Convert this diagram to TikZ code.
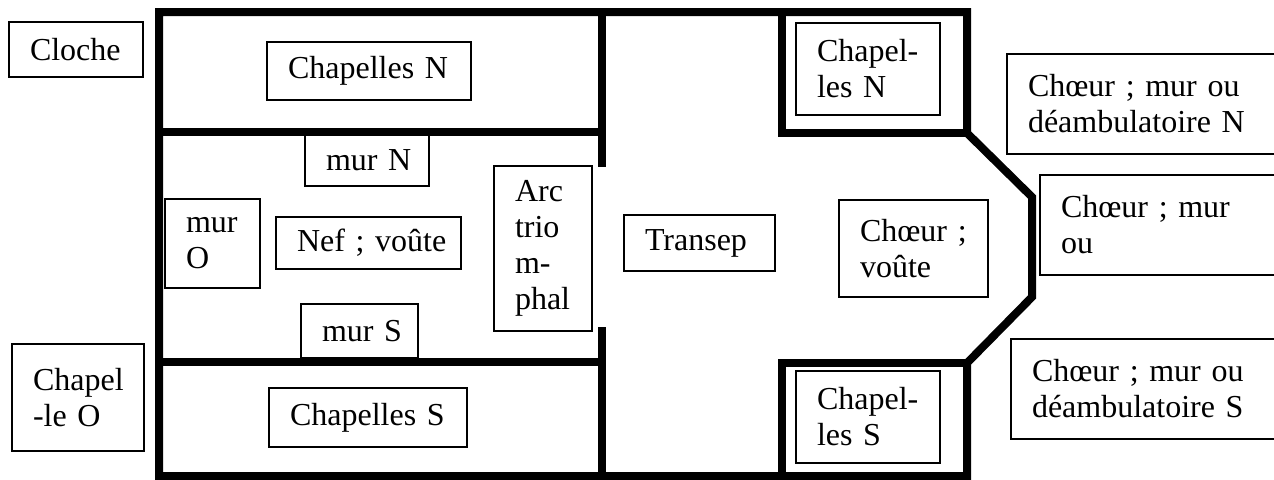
\documentclass[tikz,border=0pt]{standalone}
\usepackage{fontspec}
\setmainfont{Liberation Serif}
\hyphenpenalty=10000
\exhyphenpenalty=10000
\frenchspacing
\begin{document}
\begin{tikzpicture}[x=0.5pt,y=-0.5pt]
\tikzset{
  wall/.style={line width=4pt, line join=miter, line cap=rect},
  wallbutt/.style={line width=4pt, line cap=butt},
  box/.style={draw, fill=white, line width=0.7pt, inner xsep=10.5pt, inner ysep=0pt,
    align=left, anchor=center, font=\fontsize{16}{18}\selectfont}
}
\newcommand\tline[1]{\mbox{#1}}
\useasboundingbox (0,0) rectangle (1274,479);
\fill[white] (0,0) rectangle (1274,479);
\clip (0,0) rectangle (1274,479);
% walls
\draw[wall] (159,484) -- (159,12) -- (967,12) -- (967,133) -- (1032,197) -- (1032,297) -- (967,363) -- (967,484);
\draw[wall] (782,12) -- (782,133) -- (967,133);
\draw[wall] (967,363) -- (782,363) -- (782,484);
\draw[wall] (159,476) -- (967,476);
\draw[wall] (159,132) -- (602,132);
\draw[wall] (159,362) -- (602,362);
\draw[wallbutt] (602,8) -- (602,167);
\draw[wallbutt] (602,327) -- (602,484);
% boxes
\node[box, minimum width=67pt, minimum height=27.5pt, text width=46pt] (cloche) at (76,49.5) {\tline{Cloche}};
\node[box, minimum width=102pt, minimum height=29pt, text width=81pt] (chapN) at (369,71) {\tline{Chapelles N}};
\node[box, minimum width=62pt, minimum height=25.5pt, text width=41pt] (murN) at (367,160.5) {\tline{mur N}};
\node[box, minimum width=47.5pt, minimum height=44.5pt, text width=26.5pt] (murO) at (212.5,243.5) {\tline{mur}\\\tline{O}};
\node[box, minimum width=92.5pt, minimum height=26pt, text width=71.5pt] (nef) at (368.5,243) {\tline{Nef ; voûte}};
\node[box, minimum width=49pt, minimum height=82.5pt, text width=28pt] (arc) at (543,248.5) {\tline{Arc}\\\tline{trio}\\\tline{m-}\\\tline{phal}};
\node[box, minimum width=58.5pt, minimum height=27pt, text width=37.5pt] (murS) at (359.5,331) {\tline{mur S}};
\node[box, minimum width=66pt, minimum height=53.5pt, text width=45pt] (chapO) at (78,397.5) {\tline{Chapel}\\\tline{-le O}};
\node[box, minimum width=99pt, minimum height=29.5pt, text width=78pt] (chapS) at (368,417.5) {\tline{Chapelles S}};
\node[box, minimum width=75.5pt, minimum height=28pt, text width=54.5pt] (transep) at (699.5,243) {\tline{Transep}};
\node[box, minimum width=72pt, minimum height=46pt, text width=51pt] (chN) at (868,69) {\tline{Chapel-}\\\tline{les N}};
\node[box, minimum width=72pt, minimum height=46pt, text width=51pt] (chS) at (868,417) {\tline{Chapel-}\\\tline{les S}};
\node[box, minimum width=74.5pt, minimum height=48.5pt, text width=53.5pt] (choeur) at (913.5,248.5) {\tline{Chœur ;}\\\tline{voûte}};
\node[box, minimum width=146.5pt, minimum height=50pt, text width=125.5pt] (deambN) at (1153.5,104) {\tline{Chœur ; mur ou}\\\tline{déambulatoire N}};
\node[box, minimum width=130pt, minimum height=50pt, text width=109pt] (murE) at (1170,225) {\tline{Chœur ; mur}\\\tline{ou}};
\node[box, minimum width=144.5pt, minimum height=50pt, text width=123.5pt] (deambS) at (1155.5,389) {\tline{Chœur ; mur ou}\\\tline{déambulatoire S}};
\end{tikzpicture}
\end{document}
